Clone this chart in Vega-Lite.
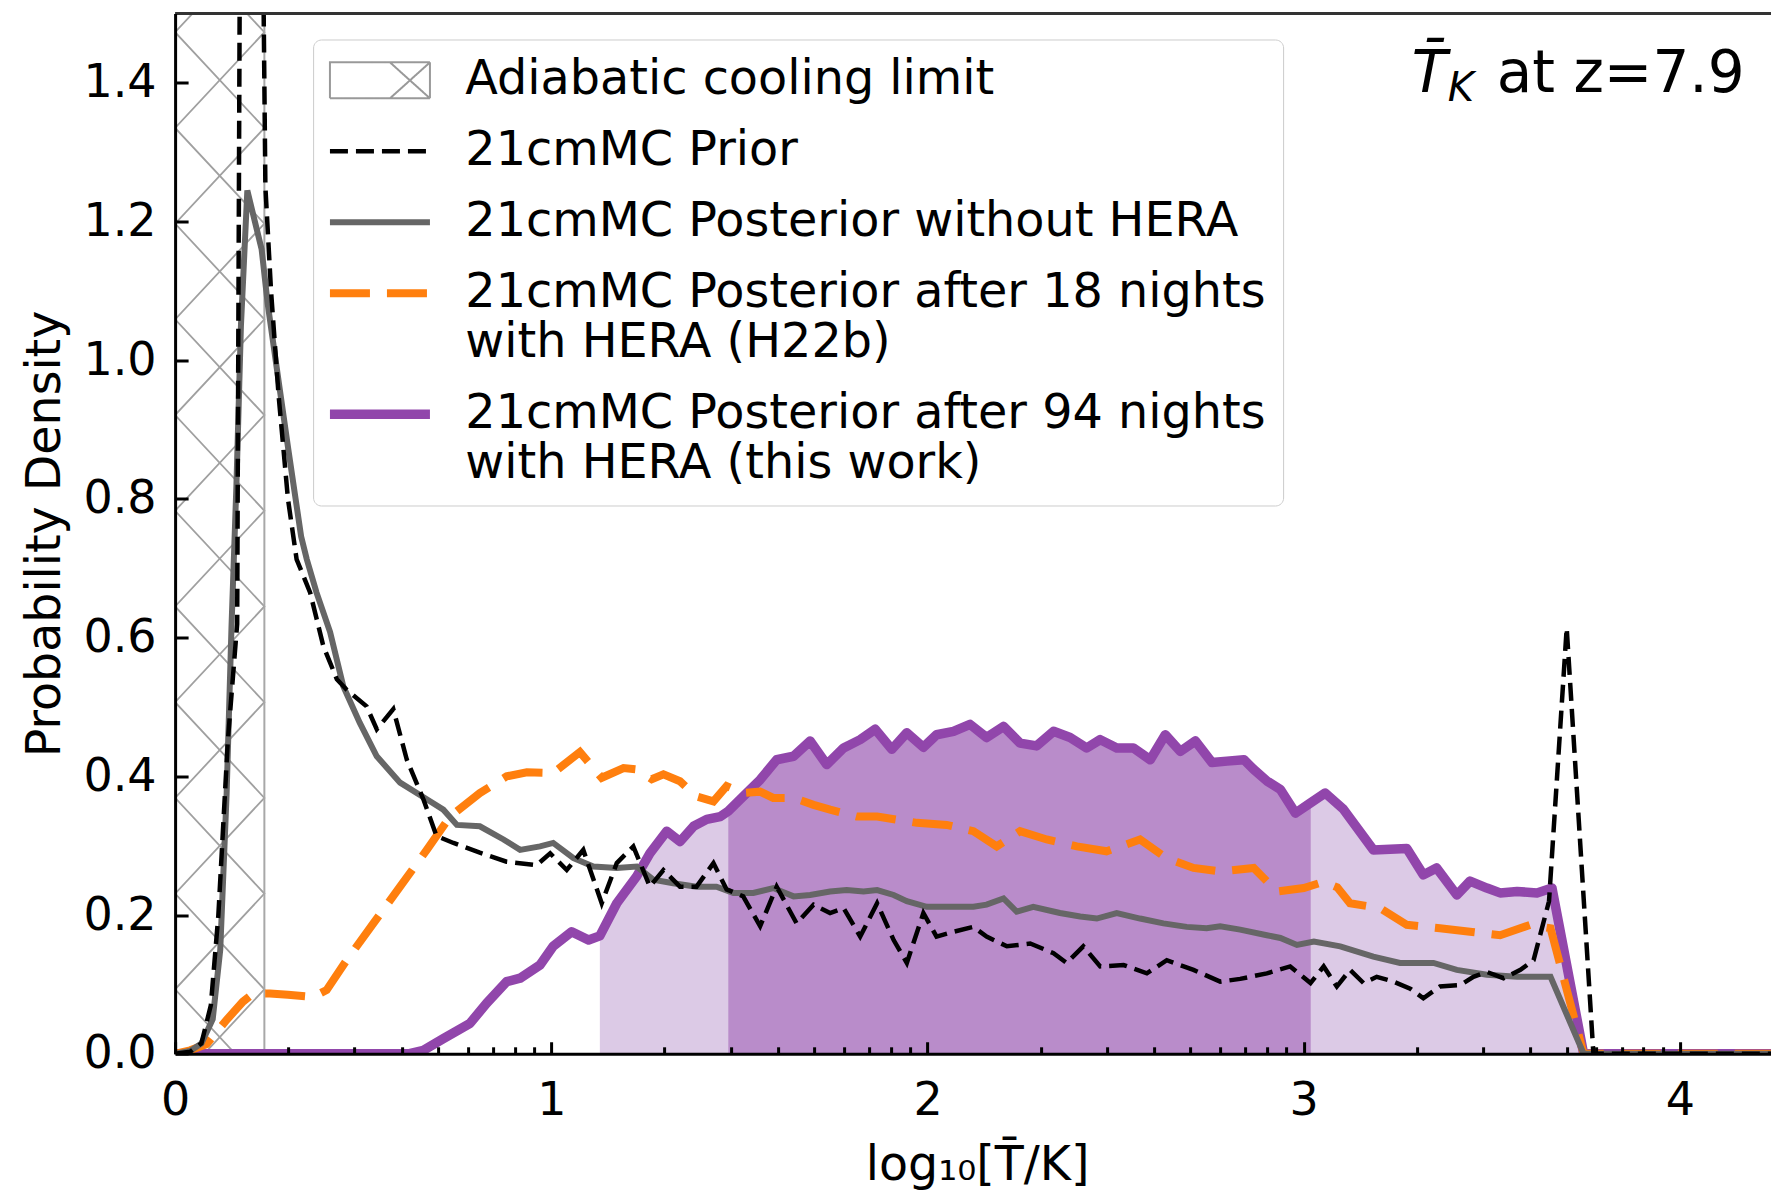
{
  "$schema": "https://vega.github.io/schema/vega-lite/v6.json",
  "width": 1596,
  "height": 1040.3,
  "autosize": {"type": "none"},
  "padding": {"left": 175.1, "top": 13.5, "right": 0, "bottom": 140.2},
  "background": "white",
  "config": {
    "view": {"stroke": null},
    "font": "DejaVu Sans",
    "axis": {"labelFont": "DejaVu Sans", "titleFont": "DejaVu Sans", "labelColor": "black", "titleColor": "black", "titleFontWeight": "normal", "grid": false}
  },
  "datasets": {
    "limit": [{"lo": 0, "Tlim": 0.2373, "ylo": 0, "yhi": 1.5}],
    "note": [{"x": 3.513, "y": 1.411, "main": "at z=7.9", "sym": "T̄", "sub": "K"}],
    "hatch": [
      {"g": "A", "i": 0, "x": 0, "y": -0.045}, {"g": "A", "i": 1, "x": 0.2373, "y": 0.093}, {"g": "A", "i": 2, "x": 0, "y": 0.231}, {"g": "A", "i": 3, "x": 0.2373, "y": 0.369}, {"g": "A", "i": 4, "x": 0, "y": 0.507}, {"g": "A", "i": 5, "x": 0.2373, "y": 0.645}, {"g": "A", "i": 6, "x": 0, "y": 0.783}, {"g": "A", "i": 7, "x": 0.2373, "y": 0.921}, {"g": "A", "i": 8, "x": 0, "y": 1.059}, {"g": "A", "i": 9, "x": 0.2373, "y": 1.197}, {"g": "A", "i": 10, "x": 0, "y": 1.335}, {"g": "A", "i": 11, "x": 0.2373, "y": 1.473}, {"g": "A", "i": 12, "x": 0, "y": 1.611},
      {"g": "B", "i": 0, "x": 0.2373, "y": -0.045}, {"g": "B", "i": 1, "x": 0, "y": 0.093}, {"g": "B", "i": 2, "x": 0.2373, "y": 0.231}, {"g": "B", "i": 3, "x": 0, "y": 0.369}, {"g": "B", "i": 4, "x": 0.2373, "y": 0.507}, {"g": "B", "i": 5, "x": 0, "y": 0.645}, {"g": "B", "i": 6, "x": 0.2373, "y": 0.783}, {"g": "B", "i": 7, "x": 0, "y": 0.921}, {"g": "B", "i": 8, "x": 0.2373, "y": 1.059}, {"g": "B", "i": 9, "x": 0, "y": 1.197}, {"g": "B", "i": 10, "x": 0.2373, "y": 1.335}, {"g": "B", "i": 11, "x": 0, "y": 1.473}, {"g": "B", "i": 12, "x": 0.2373, "y": 1.611}
    ],
    "curves": [
      {"series": "prior", "x": 0, "y": 0}, {"series": "prior", "x": 0.04, "y": 0.003}, {"series": "prior", "x": 0.07, "y": 0.015}, {"series": "prior", "x": 0.095, "y": 0.07}, {"series": "prior", "x": 0.115, "y": 0.2}, {"series": "prior", "x": 0.14, "y": 0.45}, {"series": "prior", "x": 0.165, "y": 0.62}, {"series": "prior", "x": 0.19, "y": 4.0}, {"series": "prior", "x": 0.24, "y": 1.25}, {"series": "prior", "x": 0.255, "y": 1.1}, {"series": "prior", "x": 0.275, "y": 0.95}, {"series": "prior", "x": 0.3, "y": 0.8}, {"series": "prior", "x": 0.323, "y": 0.713}, {"series": "prior", "x": 0.359, "y": 0.665}, {"series": "prior", "x": 0.394, "y": 0.588}, {"series": "prior", "x": 0.43, "y": 0.54}, {"series": "prior", "x": 0.456, "y": 0.525}, {"series": "prior", "x": 0.509, "y": 0.501}, {"series": "prior", "x": 0.536, "y": 0.468}, {"series": "prior", "x": 0.58, "y": 0.497}, {"series": "prior", "x": 0.616, "y": 0.424}, {"series": "prior", "x": 0.66, "y": 0.367}, {"series": "prior", "x": 0.695, "y": 0.314}, {"series": "prior", "x": 0.74, "y": 0.304}, {"series": "prior", "x": 0.81, "y": 0.29}, {"series": "prior", "x": 0.881, "y": 0.277}, {"series": "prior", "x": 0.961, "y": 0.272}, {"series": "prior", "x": 0.997, "y": 0.289}, {"series": "prior", "x": 1.041, "y": 0.265}, {"series": "prior", "x": 1.085, "y": 0.294}, {"series": "prior", "x": 1.134, "y": 0.217}, {"series": "prior", "x": 1.174, "y": 0.275}, {"series": "prior", "x": 1.218, "y": 0.299}, {"series": "prior", "x": 1.262, "y": 0.241}, {"series": "prior", "x": 1.298, "y": 0.265}, {"series": "prior", "x": 1.342, "y": 0.241}, {"series": "prior", "x": 1.386, "y": 0.241}, {"series": "prior", "x": 1.431, "y": 0.275}, {"series": "prior", "x": 1.466, "y": 0.237}, {"series": "prior", "x": 1.51, "y": 0.227}, {"series": "prior", "x": 1.555, "y": 0.184}, {"series": "prior", "x": 1.599, "y": 0.241}, {"series": "prior", "x": 1.652, "y": 0.188}, {"series": "prior", "x": 1.697, "y": 0.215}, {"series": "prior", "x": 1.741, "y": 0.203}, {"series": "prior", "x": 1.777, "y": 0.21}, {"series": "prior", "x": 1.821, "y": 0.169}, {"series": "prior", "x": 1.866, "y": 0.217}, {"series": "prior", "x": 1.91, "y": 0.164}, {"series": "prior", "x": 1.945, "y": 0.131}, {"series": "prior", "x": 1.989, "y": 0.203}, {"series": "prior", "x": 2.024, "y": 0.169}, {"series": "prior", "x": 2.069, "y": 0.176}, {"series": "prior", "x": 2.122, "y": 0.183}, {"series": "prior", "x": 2.157, "y": 0.169}, {"series": "prior", "x": 2.211, "y": 0.155}, {"series": "prior", "x": 2.273, "y": 0.159}, {"series": "prior", "x": 2.335, "y": 0.145}, {"series": "prior", "x": 2.37, "y": 0.131}, {"series": "prior", "x": 2.414, "y": 0.155}, {"series": "prior", "x": 2.459, "y": 0.126}, {"series": "prior", "x": 2.521, "y": 0.128}, {"series": "prior", "x": 2.583, "y": 0.116}, {"series": "prior", "x": 2.636, "y": 0.135}, {"series": "prior", "x": 2.707, "y": 0.121}, {"series": "prior", "x": 2.778, "y": 0.104}, {"series": "prior", "x": 2.831, "y": 0.108}, {"series": "prior", "x": 2.902, "y": 0.116}, {"series": "prior", "x": 2.964, "y": 0.126}, {"series": "prior", "x": 3.018, "y": 0.102}, {"series": "prior", "x": 3.053, "y": 0.126}, {"series": "prior", "x": 3.088, "y": 0.097}, {"series": "prior", "x": 3.123, "y": 0.121}, {"series": "prior", "x": 3.159, "y": 0.102}, {"series": "prior", "x": 3.194, "y": 0.111}, {"series": "prior", "x": 3.239, "y": 0.104}, {"series": "prior", "x": 3.283, "y": 0.094}, {"series": "prior", "x": 3.318, "y": 0.08}, {"series": "prior", "x": 3.362, "y": 0.097}, {"series": "prior", "x": 3.416, "y": 0.099}, {"series": "prior", "x": 3.451, "y": 0.111}, {"series": "prior", "x": 3.487, "y": 0.118}, {"series": "prior", "x": 3.531, "y": 0.109}, {"series": "prior", "x": 3.576, "y": 0.121}, {"series": "prior", "x": 3.611, "y": 0.135}, {"series": "prior", "x": 3.652, "y": 0.22}, {"series": "prior", "x": 3.699, "y": 0.614}, {"series": "prior", "x": 3.77, "y": 0}, {"series": "prior", "x": 4.25, "y": 0},

      {"series": "nohera", "x": 0, "y": 0}, {"series": "nohera", "x": 0.04, "y": 0.004}, {"series": "nohera", "x": 0.07, "y": 0.015}, {"series": "nohera", "x": 0.1, "y": 0.05}, {"series": "nohera", "x": 0.12, "y": 0.15}, {"series": "nohera", "x": 0.137, "y": 0.376}, {"series": "nohera", "x": 0.15, "y": 0.617}, {"series": "nohera", "x": 0.163, "y": 0.82}, {"series": "nohera", "x": 0.175, "y": 1.05}, {"series": "nohera", "x": 0.192, "y": 1.245}, {"series": "nohera", "x": 0.212, "y": 1.2}, {"series": "nohera", "x": 0.23, "y": 1.16}, {"series": "nohera", "x": 0.246, "y": 1.082}, {"series": "nohera", "x": 0.273, "y": 0.978}, {"series": "nohera", "x": 0.3, "y": 0.875}, {"series": "nohera", "x": 0.335, "y": 0.746}, {"series": "nohera", "x": 0.35, "y": 0.713}, {"series": "nohera", "x": 0.376, "y": 0.665}, {"series": "nohera", "x": 0.412, "y": 0.608}, {"series": "nohera", "x": 0.447, "y": 0.53}, {"series": "nohera", "x": 0.491, "y": 0.477}, {"series": "nohera", "x": 0.536, "y": 0.429}, {"series": "nohera", "x": 0.598, "y": 0.391}, {"series": "nohera", "x": 0.669, "y": 0.367}, {"series": "nohera", "x": 0.713, "y": 0.352}, {"series": "nohera", "x": 0.749, "y": 0.33}, {"series": "nohera", "x": 0.81, "y": 0.328}, {"series": "nohera", "x": 0.873, "y": 0.309}, {"series": "nohera", "x": 0.917, "y": 0.294}, {"series": "nohera", "x": 0.97, "y": 0.299}, {"series": "nohera", "x": 1.005, "y": 0.304}, {"series": "nohera", "x": 1.059, "y": 0.282}, {"series": "nohera", "x": 1.112, "y": 0.27}, {"series": "nohera", "x": 1.174, "y": 0.268}, {"series": "nohera", "x": 1.227, "y": 0.27}, {"series": "nohera", "x": 1.271, "y": 0.251}, {"series": "nohera", "x": 1.324, "y": 0.246}, {"series": "nohera", "x": 1.386, "y": 0.241}, {"series": "nohera", "x": 1.439, "y": 0.241}, {"series": "nohera", "x": 1.484, "y": 0.232}, {"series": "nohera", "x": 1.537, "y": 0.232}, {"series": "nohera", "x": 1.59, "y": 0.239}, {"series": "nohera", "x": 1.644, "y": 0.227}, {"series": "nohera", "x": 1.688, "y": 0.229}, {"series": "nohera", "x": 1.741, "y": 0.234}, {"series": "nohera", "x": 1.785, "y": 0.236}, {"series": "nohera", "x": 1.83, "y": 0.234}, {"series": "nohera", "x": 1.866, "y": 0.236}, {"series": "nohera", "x": 1.91, "y": 0.229}, {"series": "nohera", "x": 1.945, "y": 0.22}, {"series": "nohera", "x": 1.998, "y": 0.212}, {"series": "nohera", "x": 2.051, "y": 0.212}, {"series": "nohera", "x": 2.122, "y": 0.212}, {"series": "nohera", "x": 2.157, "y": 0.215}, {"series": "nohera", "x": 2.202, "y": 0.224}, {"series": "nohera", "x": 2.237, "y": 0.205}, {"series": "nohera", "x": 2.281, "y": 0.212}, {"series": "nohera", "x": 2.352, "y": 0.203}, {"series": "nohera", "x": 2.406, "y": 0.198}, {"series": "nohera", "x": 2.45, "y": 0.195}, {"series": "nohera", "x": 2.503, "y": 0.203}, {"series": "nohera", "x": 2.565, "y": 0.195}, {"series": "nohera", "x": 2.627, "y": 0.188}, {"series": "nohera", "x": 2.689, "y": 0.183}, {"series": "nohera", "x": 2.742, "y": 0.181}, {"series": "nohera", "x": 2.778, "y": 0.184}, {"series": "nohera", "x": 2.831, "y": 0.179}, {"series": "nohera", "x": 2.902, "y": 0.171}, {"series": "nohera", "x": 2.938, "y": 0.167}, {"series": "nohera", "x": 2.982, "y": 0.157}, {"series": "nohera", "x": 3.027, "y": 0.162}, {"series": "nohera", "x": 3.097, "y": 0.155}, {"series": "nohera", "x": 3.185, "y": 0.14}, {"series": "nohera", "x": 3.256, "y": 0.131}, {"series": "nohera", "x": 3.345, "y": 0.131}, {"series": "nohera", "x": 3.407, "y": 0.121}, {"series": "nohera", "x": 3.487, "y": 0.114}, {"series": "nohera", "x": 3.567, "y": 0.111}, {"series": "nohera", "x": 3.656, "y": 0.111}, {"series": "nohera", "x": 3.744, "y": 0}, {"series": "nohera", "x": 4.25, "y": 0},

      {"series": "h22b", "x": 0, "y": 0}, {"series": "h22b", "x": 0.04, "y": 0.005}, {"series": "h22b", "x": 0.084, "y": 0.014}, {"series": "h22b", "x": 0.137, "y": 0.049}, {"series": "h22b", "x": 0.18, "y": 0.075}, {"series": "h22b", "x": 0.208, "y": 0.087}, {"series": "h22b", "x": 0.252, "y": 0.087}, {"series": "h22b", "x": 0.3, "y": 0.085}, {"series": "h22b", "x": 0.367, "y": 0.082}, {"series": "h22b", "x": 0.403, "y": 0.092}, {"series": "h22b", "x": 0.456, "y": 0.135}, {"series": "h22b", "x": 0.527, "y": 0.188}, {"series": "h22b", "x": 0.598, "y": 0.241}, {"series": "h22b", "x": 0.669, "y": 0.294}, {"series": "h22b", "x": 0.731, "y": 0.342}, {"series": "h22b", "x": 0.81, "y": 0.376}, {"series": "h22b", "x": 0.881, "y": 0.4}, {"series": "h22b", "x": 0.935, "y": 0.406}, {"series": "h22b", "x": 1.005, "y": 0.405}, {"series": "h22b", "x": 1.076, "y": 0.435}, {"series": "h22b", "x": 1.134, "y": 0.398}, {"series": "h22b", "x": 1.192, "y": 0.412}, {"series": "h22b", "x": 1.227, "y": 0.41}, {"series": "h22b", "x": 1.267, "y": 0.396}, {"series": "h22b", "x": 1.298, "y": 0.403}, {"series": "h22b", "x": 1.342, "y": 0.393}, {"series": "h22b", "x": 1.386, "y": 0.371}, {"series": "h22b", "x": 1.431, "y": 0.364}, {"series": "h22b", "x": 1.466, "y": 0.386}, {"series": "h22b", "x": 1.51, "y": 0.376}, {"series": "h22b", "x": 1.555, "y": 0.378}, {"series": "h22b", "x": 1.59, "y": 0.369}, {"series": "h22b", "x": 1.644, "y": 0.369}, {"series": "h22b", "x": 1.697, "y": 0.359}, {"series": "h22b", "x": 1.741, "y": 0.352}, {"series": "h22b", "x": 1.812, "y": 0.342}, {"series": "h22b", "x": 1.866, "y": 0.342}, {"series": "h22b", "x": 1.972, "y": 0.333}, {"series": "h22b", "x": 2.051, "y": 0.33}, {"series": "h22b", "x": 2.122, "y": 0.321}, {"series": "h22b", "x": 2.184, "y": 0.299}, {"series": "h22b", "x": 2.246, "y": 0.321}, {"series": "h22b", "x": 2.317, "y": 0.309}, {"series": "h22b", "x": 2.397, "y": 0.299}, {"series": "h22b", "x": 2.476, "y": 0.292}, {"series": "h22b", "x": 2.565, "y": 0.309}, {"series": "h22b", "x": 2.636, "y": 0.282}, {"series": "h22b", "x": 2.707, "y": 0.268}, {"series": "h22b", "x": 2.778, "y": 0.263}, {"series": "h22b", "x": 2.867, "y": 0.268}, {"series": "h22b", "x": 2.929, "y": 0.234}, {"series": "h22b", "x": 3.0, "y": 0.239}, {"series": "h22b", "x": 3.053, "y": 0.248}, {"series": "h22b", "x": 3.089, "y": 0.24}, {"series": "h22b", "x": 3.123, "y": 0.217}, {"series": "h22b", "x": 3.203, "y": 0.21}, {"series": "h22b", "x": 3.274, "y": 0.186}, {"series": "h22b", "x": 3.362, "y": 0.181}, {"series": "h22b", "x": 3.442, "y": 0.176}, {"series": "h22b", "x": 3.522, "y": 0.171}, {"series": "h22b", "x": 3.602, "y": 0.186}, {"series": "h22b", "x": 3.656, "y": 0.181}, {"series": "h22b", "x": 3.744, "y": 0}, {"series": "h22b", "x": 4.25, "y": 0},

      {"series": "h25", "x": 0, "y": 0}, {"series": "h25", "x": 0.62, "y": 0}, {"series": "h25", "x": 0.66, "y": 0.005}, {"series": "h25", "x": 0.713, "y": 0.022}, {"series": "h25", "x": 0.784, "y": 0.044}, {"series": "h25", "x": 0.828, "y": 0.073}, {"series": "h25", "x": 0.881, "y": 0.104}, {"series": "h25", "x": 0.917, "y": 0.109}, {"series": "h25", "x": 0.97, "y": 0.128}, {"series": "h25", "x": 1.005, "y": 0.155}, {"series": "h25", "x": 1.054, "y": 0.176}, {"series": "h25", "x": 1.099, "y": 0.164}, {"series": "h25", "x": 1.129, "y": 0.17}, {"series": "h25", "x": 1.174, "y": 0.217}, {"series": "h25", "x": 1.227, "y": 0.256}, {"series": "h25", "x": 1.262, "y": 0.289}, {"series": "h25", "x": 1.307, "y": 0.321}, {"series": "h25", "x": 1.342, "y": 0.306}, {"series": "h25", "x": 1.378, "y": 0.328}, {"series": "h25", "x": 1.413, "y": 0.338}, {"series": "h25", "x": 1.449, "y": 0.342}, {"series": "h25", "x": 1.4705, "y": 0.35}, {"series": "h25", "x": 1.519, "y": 0.376}, {"series": "h25", "x": 1.555, "y": 0.395}, {"series": "h25", "x": 1.599, "y": 0.424}, {"series": "h25", "x": 1.644, "y": 0.429}, {"series": "h25", "x": 1.688, "y": 0.451}, {"series": "h25", "x": 1.732, "y": 0.417}, {"series": "h25", "x": 1.777, "y": 0.441}, {"series": "h25", "x": 1.821, "y": 0.453}, {"series": "h25", "x": 1.861, "y": 0.468}, {"series": "h25", "x": 1.905, "y": 0.439}, {"series": "h25", "x": 1.945, "y": 0.463}, {"series": "h25", "x": 1.989, "y": 0.442}, {"series": "h25", "x": 2.024, "y": 0.46}, {"series": "h25", "x": 2.069, "y": 0.465}, {"series": "h25", "x": 2.113, "y": 0.475}, {"series": "h25", "x": 2.157, "y": 0.456}, {"series": "h25", "x": 2.202, "y": 0.472}, {"series": "h25", "x": 2.246, "y": 0.448}, {"series": "h25", "x": 2.29, "y": 0.444}, {"series": "h25", "x": 2.335, "y": 0.465}, {"series": "h25", "x": 2.379, "y": 0.456}, {"series": "h25", "x": 2.423, "y": 0.441}, {"series": "h25", "x": 2.459, "y": 0.453}, {"series": "h25", "x": 2.503, "y": 0.441}, {"series": "h25", "x": 2.547, "y": 0.441}, {"series": "h25", "x": 2.592, "y": 0.424}, {"series": "h25", "x": 2.632, "y": 0.46}, {"series": "h25", "x": 2.672, "y": 0.436}, {"series": "h25", "x": 2.712, "y": 0.451}, {"series": "h25", "x": 2.756, "y": 0.42}, {"series": "h25", "x": 2.796, "y": 0.422}, {"series": "h25", "x": 2.841, "y": 0.424}, {"series": "h25", "x": 2.867, "y": 0.41}, {"series": "h25", "x": 2.903, "y": 0.393}, {"series": "h25", "x": 2.938, "y": 0.381}, {"series": "h25", "x": 2.978, "y": 0.347}, {"series": "h25", "x": 3.0186, "y": 0.362}, {"series": "h25", "x": 3.057, "y": 0.376}, {"series": "h25", "x": 3.105, "y": 0.353}, {"series": "h25", "x": 3.185, "y": 0.294}, {"series": "h25", "x": 3.274, "y": 0.296}, {"series": "h25", "x": 3.318, "y": 0.258}, {"series": "h25", "x": 3.353, "y": 0.268}, {"series": "h25", "x": 3.407, "y": 0.229}, {"series": "h25", "x": 3.442, "y": 0.249}, {"series": "h25", "x": 3.487, "y": 0.239}, {"series": "h25", "x": 3.522, "y": 0.232}, {"series": "h25", "x": 3.567, "y": 0.234}, {"series": "h25", "x": 3.62, "y": 0.232}, {"series": "h25", "x": 3.66, "y": 0.239}, {"series": "h25", "x": 3.744, "y": 0}, {"series": "h25", "x": 4.25, "y": 0}
    ]
  },
  "layer": [
    {
      "data": {"name": "curves"},
      "transform": [{"filter": "datum.series === 'h25' && datum.x >= 1.129"}],
      "mark": {"type": "area", "color": "#dccae6", "clip": true},
      "encoding": {
        "x": {"field": "x", "type": "quantitative", "scale": {"domain": [0, 4.2423], "nice": false, "zero": false}},
        "y": {"field": "y", "type": "quantitative", "scale": {"domain": [0, 1.5], "nice": false}}
      }
    },
    {
      "data": {"name": "curves"},
      "transform": [{"filter": "datum.series === 'h25' && datum.x >= 1.4705 && datum.x <= 3.0186"}],
      "mark": {"type": "area", "color": "#b98cca", "clip": true},
      "encoding": {
        "x": {"field": "x", "type": "quantitative"},
        "y": {"field": "y", "type": "quantitative"}
      }
    },
    {
      "data": {"name": "hatch"},
      "mark": {"type": "line", "color": "#a0a0a0", "strokeWidth": 1.8, "clip": true},
      "encoding": {
        "x": {"field": "x", "type": "quantitative"},
        "y": {"field": "y", "type": "quantitative"},
        "detail": {"field": "g", "type": "nominal"},
        "order": {"field": "i", "type": "quantitative"}
      }
    },
    {
      "data": {"name": "limit"},
      "mark": {"type": "rect", "filled": false, "stroke": "#a8a8a8", "strokeWidth": 2, "clip": true},
      "encoding": {
        "x": {"field": "lo", "type": "quantitative"},
        "x2": {"field": "Tlim"},
        "y": {"field": "ylo", "type": "quantitative"},
        "y2": {"field": "yhi"}
      }
    },
    {
      "data": {"name": "curves"},
      "transform": [{"filter": "datum.series === 'h25'"}],
      "mark": {"type": "line", "strokeWidth": 9.5, "clip": true, "strokeJoin": "round"},
      "encoding": {
        "x": {
          "field": "x", "type": "quantitative", "title": "log₁₀[T̄/K]",
          "axis": {
            "values": [0, 0.30103, 0.47712, 0.60206, 0.69897, 0.77815, 0.8451, 0.90309, 0.95424, 1, 1.30103, 1.47712, 1.60206, 1.69897, 1.77815, 1.8451, 1.90309, 1.95424, 2, 2.30103, 2.47712, 2.60206, 2.69897, 2.77815, 2.8451, 2.90309, 2.95424, 3, 3.30103, 3.47712, 3.60206, 3.69897, 3.77815, 3.8451, 3.90309, 3.95424, 4],
            "labelExpr": "datum.value % 1 === 0 ? format(datum.value, 'd') : ''",
            "labelFontSize": 46, "labelPadding": 37, "labelFlush": false, "labelOverlap": false, "labelBound": false,
            "tickSize": -12, "tickWidth": 3, "tickColor": "black",
            "tickDash": {"condition": {"test": "datum.value % 1 !== 0", "value": [7, 40]}, "value": [1, 0]},
            "domainColor": "black", "domainWidth": 3,
            "titleFontSize": 47.5, "titleX": 802, "titleY": 112, "titleBaseline": "middle",
            "zindex": 1
          }
        },
        "y": {
          "field": "y", "type": "quantitative", "title": "Probability Density",
          "axis": {
            "values": [0, 0.2, 0.4, 0.6, 0.8, 1.0, 1.2, 1.4], "format": ".1f",
            "labelFontSize": 46, "labelPadding": 32,
            "tickSize": -13, "tickWidth": 3, "tickColor": "black",
            "domainColor": "black", "domainWidth": 3,
            "titleFontSize": 47.5, "titleX": -130, "titleY": 520, "titleBaseline": "middle", "titleAngle": 270,
            "zindex": 1
          }
        },
        "color": {
          "field": "series", "type": "nominal",
          "scale": {"domain": ["adiabatic", "prior", "nohera", "h22b", "h25"], "range": ["#999999", "#000000", "#666666", "#ff7f0e", "#9146ab"]},
          "legend": {
            "orient": "none", "legendX": 138, "legendY": 26, "direction": "vertical", "title": null,
            "symbolType": "stroke", "symbolSize": 10000, "symbolOffset": 26,
            "labelFontSize": 47.7, "labelFont": "DejaVu Sans", "labelColor": "black", "labelLimit": 0, "labelOffset": 61.5,
            "rowPadding": 22, "padding": 17, "strokeColor": "#cccccc", "fillColor": "white", "cornerRadius": 8,
            "labelExpr": "datum.value === 'adiabatic' ? 'Adiabatic cooling limit' : datum.value === 'prior' ? '21cmMC Prior' : datum.value === 'nohera' ? '21cmMC Posterior without HERA' : datum.value === 'h22b' ? ['21cmMC Posterior after 18 nights', 'with HERA (H22b)'] : ['21cmMC Posterior after 94 nights', 'with HERA (this work)']",
            "encode": {
              "symbols": {
                "update": {
                  "shape": {"signal": "datum.value === 'adiabatic' ? 'M-1,-0.36H1V0.36H-1Z M0.2,-0.36L1,0.36 M0.2,0.36L1,-0.36' : 'stroke'"},
                  "strokeWidth": {"signal": "datum.value === 'adiabatic' ? 2 : datum.value === 'prior' ? 4.5 : datum.value === 'nohera' ? 6 : datum.value === 'h22b' ? 8 : 9.5"},
                  "strokeDash": {"signal": "datum.value === 'prior' ? [18, 8] : datum.value === 'h22b' ? [40, 17] : [1, 0]"},
                  "fill": {"value": "transparent"},
                  "opacity": {"value": 1}
                }
              },
              "labels": {"update": {"lineHeight": {"value": 49.7}}}
            }
          }
        }
      }
    },
    {
      "data": {"name": "curves"},
      "transform": [{"filter": "datum.series === 'h22b'"}],
      "mark": {"type": "line", "strokeWidth": 8, "strokeDash": [40, 17], "clip": true},
      "encoding": {
        "x": {"field": "x", "type": "quantitative"},
        "y": {"field": "y", "type": "quantitative"},
        "color": {"field": "series", "type": "nominal", "legend": null}
      }
    },
    {
      "data": {"name": "curves"},
      "transform": [{"filter": "datum.series === 'nohera'"}],
      "mark": {"type": "line", "strokeWidth": 6, "clip": true},
      "encoding": {
        "x": {"field": "x", "type": "quantitative"},
        "y": {"field": "y", "type": "quantitative"},
        "color": {"field": "series", "type": "nominal", "legend": null}
      }
    },
    {
      "data": {"name": "curves"},
      "transform": [{"filter": "datum.series === 'prior'"}],
      "mark": {"type": "line", "strokeWidth": 4.5, "strokeDash": [18, 8], "clip": true},
      "encoding": {
        "x": {"field": "x", "type": "quantitative"},
        "y": {"field": "y", "type": "quantitative"},
        "color": {"field": "series", "type": "nominal", "legend": null}
      }
    },
    {
      "data": {"name": "limit"},
      "mark": {"type": "rule", "color": "#333333", "strokeWidth": 3},
      "encoding": {"y": {"field": "yhi", "type": "quantitative"}}
    },
    {
      "data": {"name": "note"},
      "mark": {"type": "text", "align": "left", "baseline": "middle", "fontSize": 58, "font": "DejaVu Sans", "color": "black"},
      "encoding": {
        "x": {"field": "x", "type": "quantitative"},
        "y": {"field": "y", "type": "quantitative"},
        "text": {"field": "main", "type": "nominal"}
      }
    },
    {
      "data": {"name": "note"},
      "mark": {"type": "text", "align": "left", "baseline": "middle", "fontSize": 40, "fontStyle": "italic", "font": "DejaVu Sans", "color": "black", "dx": -49, "dy": 14},
      "encoding": {
        "x": {"field": "x", "type": "quantitative"},
        "y": {"field": "y", "type": "quantitative"},
        "text": {"field": "sub", "type": "nominal"}
      }
    },
    {
      "data": {"name": "note"},
      "mark": {"type": "text", "align": "left", "baseline": "middle", "fontSize": 58, "fontStyle": "italic", "font": "DejaVu Sans", "color": "black", "dx": -85},
      "encoding": {
        "x": {"field": "x", "type": "quantitative"},
        "y": {"field": "y", "type": "quantitative"},
        "text": {"field": "sym", "type": "nominal"}
      }
    }
  ]
}
